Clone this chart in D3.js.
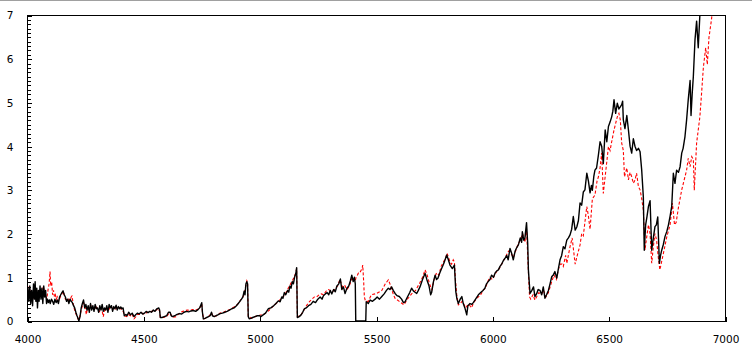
<!DOCTYPE html>
<html>
<head>
<meta charset="utf-8">
<script src="https://cdn.jsdelivr.net/npm/d3@7"></script>
<style>
html,body{margin:0;padding:0;background:#fff;}
svg{display:block;}
text{font-family:"DejaVu Sans",Verdana,sans-serif;font-size:10.5px;fill:#000;}
</style>
</head>
<body>
<svg id="chart" width="752" height="354"></svg>
<script>
// ---- data ----
const xTickValues = [4000, 4500, 5000, 5500, 6000, 6500, 7000];
const yTickValues = [0, 1, 2, 3, 4, 5, 6, 7];

const blackX = [4000,4004,4008,4012,4016,4020,4024,4028,4032,4035,4038,4042,4045,4049,4052,4056,4060,4064,4068,4072,4076,4080,4084,4088,4092,4096,4100,4105,4110,4115,4120,4125,4130,4135,4140,4145,4150,4155,4160,4165,4170,4175,4180,4185,4190,4195,4200,4205,4210,4215,4220,4223,4228,4233,4238,4243,4248,4253,4258,4263,4268,4273,4278,4283,4288,4293,4298,4303,4308,4313,4318,4323,4328,4333,4338,4343,4348,4353,4358,4363,4368,4373,4378,4383,4388,4393,4398,4403,4408,4413,4418,4425,4430,4437,4445,4452,4460,4468,4475,4482,4490,4497,4505,4512,4520,4528,4535,4543,4550,4558,4566,4570,4573,4580,4590,4600,4608,4615,4620,4625,4635,4645,4655,4665,4675,4685,4695,4705,4715,4725,4735,4742,4748,4751,4754,4758,4765,4772,4780,4787,4793,4797,4805,4812,4820,4830,4840,4850,4860,4870,4880,4890,4900,4908,4915,4922,4928,4933,4937,4941,4945,4948,4951,4955,4962,4970,4980,4990,5000,5005,5015,5025,5037,5048,5060,5070,5080,5088,5095,5100,5106,5112,5120,5125,5130,5135,5140,5145,5150,5155,5159,5162,5170,5178,5185,5192,5200,5210,5220,5230,5240,5250,5260,5268,5274,5282,5290,5297,5303,5310,5318,5325,5332,5340,5347,5353,5360,5367,5375,5383,5390,5396,5402,5407,5411,5413,5456,5458,5467,5475,5485,5496,5505,5515,5525,5535,5545,5553,5560,5567,5574,5582,5590,5600,5610,5618,5625,5635,5645,5653,5662,5675,5682,5689,5700,5711,5719,5728,5735,5739,5747,5754,5760,5766,5774,5782,5790,5797,5804,5811,5818,5828,5837,5843,5848,5854,5862,5869,5875,5882,5890,5895,5904,5912,5918,5928,5940,5950,5960,5968,5975,5982,5990,5997,6005,6012,6020,6026,6033,6040,6047,6054,6062,6068,6076,6083,6090,6098,6105,6112,6120,6126,6129,6135,6140,6147,6152,6155,6162,6170,6177,6183,6190,6197,6205,6212,6219,6226,6233,6241,6248,6255,6262,6269,6277,6284,6291,6298,6305,6312,6320,6327,6334,6341,6348,6356,6363,6370,6377,6384,6391,6398,6406,6413,6420,6426,6430,6436,6441,6448,6456,6463,6470,6477,6485,6492,6499,6506,6513,6518,6523,6530,6537,6544,6550,6556,6560,6563,6570,6578,6585,6592,6599,6606,6613,6620,6628,6635,6642,6649,6653,6659,6665,6671,6678,6685,6692,6699,6705,6711,6718,6723,6728,6735,6742,6750,6757,6764,6771,6778,6785,6792,6800,6807,6814,6820,6828,6835,6842,6850,6854,6859,6864,6871,6878,6885,6892];
const blackY = [0.55,0.75,0.45,0.8,0.4,0.7,0.35,0.85,0.5,0.9,0.45,0.75,0.3,0.7,0.45,0.8,0.5,0.75,0.4,0.8,0.55,0.7,0.4,0.5,0.42,0.48,0.4,0.5,0.45,0.38,0.5,0.42,0.48,0.4,0.55,0.6,0.65,0.69,0.6,0.55,0.45,0.5,0.4,0.5,0.45,0.42,0.35,0.3,0.2,0.12,0.05,0,0.1,0.3,0.4,0.48,0.3,0.38,0.25,0.35,0.2,0.4,0.25,0.35,0.22,0.38,0.28,0.3,0.2,0.35,0.25,0.38,0.22,0.3,0.25,0.35,0.2,0.38,0.3,0.35,0.22,0.33,0.28,0.36,0.25,0.33,0.28,0.32,0.28,0.3,0.12,0.15,0.12,0.2,0.14,0.18,0.1,0.15,0.18,0.16,0.2,0.16,0.18,0.22,0.19,0.22,0.2,0.25,0.22,0.28,0.3,0.25,0.08,0.08,0.1,0.12,0.2,0.2,0.12,0.1,0.12,0.15,0.17,0.16,0.2,0.22,0.21,0.23,0.24,0.22,0.26,0.3,0.38,0.42,0.2,0.05,0.06,0.08,0.1,0.12,0.2,0.12,0.1,0.12,0.14,0.17,0.18,0.2,0.22,0.25,0.28,0.3,0.35,0.4,0.45,0.5,0.55,0.68,0.6,0.85,0.9,0.85,0.1,0.05,0.06,0.08,0.1,0.12,0.12,0.1,0.14,0.18,0.28,0.3,0.35,0.4,0.46,0.44,0.55,0.52,0.65,0.6,0.7,0.66,0.8,0.75,0.9,0.85,1.0,1.08,1.22,0.08,0.1,0.14,0.2,0.28,0.3,0.35,0.38,0.45,0.42,0.5,0.55,0.5,0.58,0.62,0.65,0.6,0.7,0.62,0.72,0.67,0.8,0.85,0.96,0.72,0.78,0.63,0.75,0.8,0.92,1.05,0.9,1.0,0.85,0,0,0.44,0.4,0.48,0.45,0.5,0.55,0.5,0.56,0.62,0.7,0.75,0.72,0.78,0.7,0.63,0.58,0.56,0.5,0.42,0.44,0.55,0.65,0.75,0.68,0.63,0.7,0.78,0.95,1.09,0.94,0.8,0.6,0.65,0.9,1.05,0.95,0.98,1.1,1.2,1.3,1.4,1.51,1.4,1.28,1.2,1.28,0.67,0.5,0.4,0.5,0.56,0.4,0.3,0.14,0.35,0.4,0.38,0.42,0.5,0.6,0.65,0.7,0.75,0.85,0.9,0.95,1.05,1.0,1.1,1.15,1.17,1.25,1.3,1.38,1.43,1.5,1.4,1.66,1.55,1.4,1.6,1.68,1.74,1.9,1.8,2.04,1.85,1.9,2.25,1.78,1.17,0.63,0.7,0.78,0.56,0.62,0.72,0.7,0.6,0.78,0.52,0.6,0.7,0.85,1.01,1.05,1.13,0.98,1.2,1.4,1.5,1.7,1.65,1.85,1.9,1.97,2.1,2.39,2.08,2.15,2.3,2.7,2.65,2.95,3.0,3.38,3.2,2.93,3.1,2.99,3.3,3.45,3.5,3.8,4.1,4.0,3.6,4.37,4.1,4.45,4.55,4.67,4.8,5.06,4.75,4.98,4.85,4.9,4.95,5.03,4.6,4.4,4.7,4.37,4.0,3.84,4.17,4.0,3.9,3.95,3.87,3.45,2.84,1.62,2.2,2.4,2.62,2.75,1.62,1.9,2.16,2.2,2.38,1.32,1.5,1.62,1.75,1.93,2.05,2.2,2.4,2.62,3.38,3.15,3.45,3.4,3.53,3.84,3.95,4.22,4.6,5.06,5.5,4.7,5.2,5.6,6.43,6.86,6.25,7.0];

const redX = [4000,4005,4010,4015,4020,4025,4030,4035,4040,4045,4050,4055,4060,4065,4070,4075,4080,4085,4090,4095,4099,4102,4106,4110,4114,4118,4122,4126,4130,4135,4140,4145,4150,4155,4160,4165,4170,4175,4180,4185,4190,4193,4197,4202,4208,4215,4222,4228,4233,4238,4243,4250,4255,4260,4268,4275,4283,4290,4297,4305,4312,4320,4328,4333,4340,4348,4355,4362,4370,4378,4385,4393,4400,4408,4415,4420,4428,4435,4445,4452,4460,4468,4475,4485,4495,4505,4515,4525,4535,4545,4555,4565,4570,4573,4585,4600,4610,4618,4625,4640,4650,4660,4670,4680,4690,4700,4710,4720,4730,4740,4748,4751,4755,4760,4765,4780,4793,4800,4815,4830,4845,4860,4875,4890,4905,4918,4928,4935,4940,4945,4948,4951,4955,4965,4980,5000,5020,5040,5060,5075,5090,5100,5110,5120,5130,5140,5148,5155,5159,5162,5175,5185,5195,5205,5215,5225,5235,5245,5255,5265,5275,5285,5295,5305,5315,5325,5335,5345,5355,5365,5375,5385,5395,5400,5405,5410,5415,5420,5425,5430,5435,5440,5443,5447,5450,5455,5460,5467,5480,5496,5510,5525,5540,5553,5560,5575,5582,5600,5620,5635,5653,5670,5689,5700,5711,5720,5730,5740,5750,5760,5770,5780,5790,5800,5805,5812,5818,5825,5832,5837,5842,5847,5854,5862,5870,5878,5885,5892,5900,5910,5918,5930,5940,5950,5960,5970,5980,5990,6000,6010,6020,6030,6040,6050,6060,6070,6080,6090,6100,6110,6120,6130,6140,6147,6152,6156,6160,6165,6175,6183,6190,6200,6210,6220,6230,6241,6255,6265,6275,6285,6291,6300,6305,6315,6320,6334,6343,6356,6365,6377,6384,6391,6406,6413,6420,6430,6441,6450,6456,6463,6470,6477,6488,6499,6506,6513,6523,6530,6537,6544,6550,6556,6563,6568,6578,6585,6592,6599,6606,6613,6620,6628,6635,6642,6649,6656,6663,6671,6678,6685,6692,6699,6706,6713,6720,6735,6750,6764,6774,6783,6790,6800,6814,6828,6835,6842,6850,6857,6864,6868,6878,6885,6892,6900,6907,6917,6924,6931,6942,6950];
const redY = [0.4,0.6,0.8,0.55,0.65,0.5,0.7,0.6,0.75,0.55,0.7,0.6,0.72,0.55,0.8,0.65,0.6,0.5,0.7,0.85,1.13,0.8,0.9,0.6,0.7,0.55,0.6,0.5,0.55,0.45,0.5,0.58,0.62,0.68,0.6,0.5,0.48,0.45,0.5,0.48,0.55,0.57,0.45,0.3,0.2,0.1,0.02,0.12,0.25,0.35,0.42,0.3,0.15,0.3,0.25,0.35,0.3,0.25,0.32,0.28,0.22,0.3,0.1,0.25,0.3,0.22,0.3,0.28,0.3,0.25,0.3,0.28,0.3,0.25,0.2,0.12,0.1,0.15,0.12,0.16,0.05,0.1,0.15,0.15,0.18,0.15,0.2,0.2,0.22,0.22,0.25,0.28,0.22,0.08,0.08,0.1,0.18,0.15,0.08,0.1,0.15,0.2,0.22,0.24,0.25,0.24,0.26,0.25,0.26,0.28,0.35,0.4,0.15,0.05,0.06,0.1,0.18,0.1,0.12,0.18,0.2,0.24,0.27,0.32,0.38,0.48,0.55,0.65,0.8,0.92,0.88,0.1,0.1,0.06,0.1,0.13,0.16,0.24,0.35,0.42,0.5,0.55,0.62,0.72,0.82,0.92,1.0,1.1,1.2,0.1,0.12,0.2,0.3,0.38,0.45,0.5,0.55,0.55,0.6,0.62,0.6,0.68,0.72,0.7,0.68,0.75,0.8,0.95,0.78,0.82,0.72,0.8,0.95,1.0,0.95,0.9,1.02,1.05,1.1,1.1,1.15,1.2,1.28,0.9,0.55,0.45,0.45,0.45,0.6,0.62,0.65,0.7,0.85,0.94,0.85,0.6,0.52,0.45,0.37,0.5,0.62,0.7,0.88,1.0,1.17,1.05,0.85,0.72,0.95,1.1,1.05,1.25,1.35,1.45,1.55,1.45,1.35,1.3,1.4,1.35,0.9,0.6,0.37,0.4,0.45,0.38,0.3,0.35,0.38,0.3,0.4,0.5,0.55,0.6,0.7,0.75,0.9,1.0,0.95,1.05,1.15,1.2,1.3,1.4,1.5,1.6,1.55,1.45,1.6,1.75,1.85,2.0,1.8,2.1,1.5,1.0,0.55,0.5,0.6,0.48,0.55,0.65,0.6,0.7,0.55,0.65,0.9,1.05,0.95,1.2,1.3,1.3,1.25,1.5,1.32,1.7,1.9,1.3,1.5,1.74,2.0,1.95,2.62,2.4,2.1,2.8,2.88,3.2,3.3,3.5,3.84,2.92,3.45,3.99,3.9,4.1,4.37,4.52,4.67,4.75,4.6,4.07,3.9,3.3,3.5,3.23,3.4,3.3,3.15,3.22,3.38,3.07,3.0,2.8,2.54,1.62,1.9,2.2,2.0,1.32,1.7,2.0,1.85,1.47,1.17,1.54,1.93,2.2,2.7,2.2,2.25,2.6,3.0,3.3,3.45,3.72,3.53,3.76,3.7,2.99,4.07,4.37,4.67,5.26,5.8,6.25,5.87,6.48,6.9,7.3];

// ---- drawing ----
const svg = d3.select("#chart");
const W = 752, H = 354;
const plot = {left: 27, right: 725, top: 15, bottom: 321};

const x = d3.scaleLinear().domain([4000, 7000]).range([plot.left, plot.right]);
const y = d3.scaleLinear().domain([0, 7]).range([plot.bottom, plot.top]);

// top grey rule
svg.append("rect").attr("x", 0).attr("y", 0).attr("width", W).attr("height", 1).attr("fill", "#a0a0a0");

svg.append("defs").append("clipPath").attr("id", "clip")
  .append("rect").attr("x", plot.left).attr("y", plot.top)
  .attr("width", plot.right - plot.left).attr("height", plot.bottom - plot.top);

const line = d3.line().x(d => x(d[0])).y(d => y(d[1]));
const redData = redX.map((v, i) => [v, redY[i]]);
const blackData = blackX.map((v, i) => [v, blackY[i]]);

const g = svg.append("g").attr("clip-path", "url(#clip)");
g.append("path").datum(redData).attr("d", line)
  .attr("fill", "none").attr("stroke", "#ff0000").attr("stroke-width", 1.1)
  .attr("stroke-dasharray", "3,2");
g.append("path").datum(blackData).attr("d", line)
  .attr("fill", "none").attr("stroke", "#000").attr("stroke-width", 1.4)
  .attr("stroke-linejoin", "round");

// y minor ticks
const minor = d3.range(0, 70).map(i => i / 10);
svg.append("g").attr("transform", `translate(${plot.left + 0.5},0.5)`)
  .call(d3.axisLeft(y).tickValues(minor).tickSize(-3).tickFormat(""))
  .call(a => a.select(".domain").remove())
  .attr("shape-rendering", "crispEdges");

// y axis
const yAxis = svg.append("g").attr("transform", `translate(${plot.left + 0.5},0.5)`)
  .call(d3.axisLeft(y).tickValues(yTickValues).tickSize(-4).tickPadding(14).tickFormat(d3.format("d")))
  .attr("shape-rendering", "crispEdges");
yAxis.select(".domain").remove();
yAxis.selectAll("text").attr("font-size", null).attr("font-family", null);

// x axis
const xAxis = svg.append("g").attr("transform", `translate(0.5,${plot.bottom + 0.5})`)
  .call(d3.axisBottom(x).tickValues(xTickValues).tickSize(-5).tickPadding(14).tickFormat(d3.format("d")))
  .attr("shape-rendering", "crispEdges");
xAxis.select(".domain").remove();
xAxis.selectAll("text").attr("font-size", null).attr("font-family", null);

// frame
svg.append("rect")
  .attr("x", plot.left + 0.5).attr("y", plot.top + 0.5)
  .attr("width", plot.right - plot.left).attr("height", plot.bottom - plot.top)
  .attr("fill", "none").attr("stroke", "#000").attr("stroke-width", 1)
  .attr("shape-rendering", "crispEdges");
</script>
</body>
</html>
